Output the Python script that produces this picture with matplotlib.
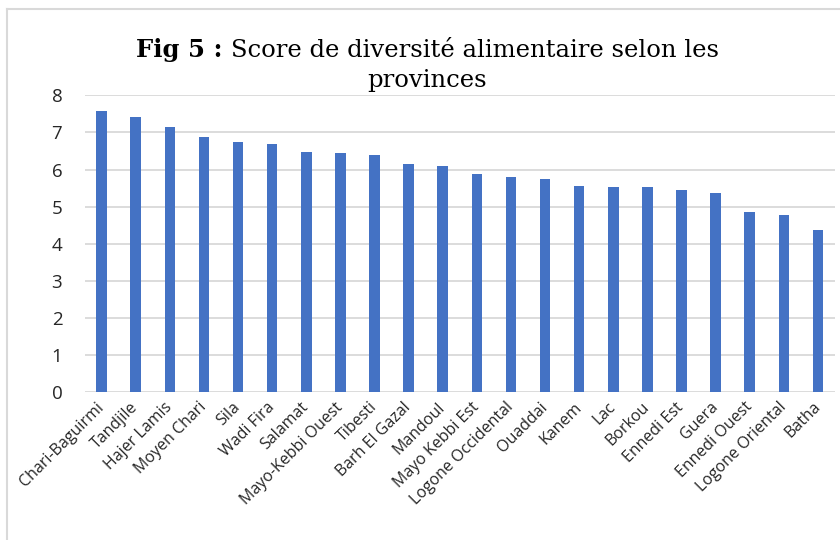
import matplotlib
matplotlib.use("Agg")
import matplotlib.pyplot as plt
from matplotlib.lines import Line2D

provinces = ["Chari-Baguirmi", "Tandjile", "Hajer Lamis", "Moyen Chari", "Sila",
             "Wadi Fira", "Salamat", "Mayo-Kebbi Ouest", "Tibesti", "Barh El Gazal",
             "Mandoul", "Mayo Kebbi Est", "Logone Occidental", "Ouaddai", "Kanem",
             "Lac", "Borkou", "Ennedi Est", "Guera", "Ennedi Ouest",
             "Logone Oriental", "Batha"]
scores = [7.58, 7.41, 7.14, 6.89, 6.74, 6.69, 6.47, 6.44, 6.38, 6.16,
          6.10, 5.89, 5.80, 5.74, 5.57, 5.53, 5.53, 5.46, 5.36, 4.87,
          4.77, 4.37]
yticks = [0, 1, 2, 3, 4, 5, 6, 7, 8]

bar_color = "#4472C4"
grid_color = "#D9D9D9"
text_color = "#262626"

fig = plt.figure(figsize=(8.4, 5.4), dpi=100)
ax = fig.add_axes([0.1006, 0.2735, 0.8935, 0.55])

x = range(len(provinces))
ax.bar(x, scores, width=0.31, color=bar_color, zorder=3)
ax.set_xlim(-0.5, len(provinces) - 0.5)
ax.set_ylim(0, 8)
ax.set_yticks(yticks)
ax.set_yticklabels([str(v) for v in yticks], fontsize=13.5,
                   family="Open Sans", color=text_color)
ax.set_xticks(list(x))
ax.set_xticklabels(provinces, rotation=45, ha="right", va="center",
                   rotation_mode="anchor", fontsize=11.5, family="Open Sans",
                   color=text_color)
ax.tick_params(axis="both", length=0)
ax.tick_params(axis="y", pad=16)
ax.tick_params(axis="x", pad=9)
ax.grid(axis="y", color=grid_color, lw=1.3, zorder=0)
for s in ax.spines.values():
    s.set_visible(False)

# outer chart frame (top and left edges visible)
fig.add_artist(Line2D([7 / 840, 7 / 840], [0, 1 - 9 / 540], color="#D9D9D9", lw=1.5))
fig.add_artist(Line2D([7 / 840, 1], [1 - 9 / 540, 1 - 9 / 540], color="#D9D9D9", lw=1.5))

# title: bold "Fig 5 :" followed by regular text
fs = 17.5
fig.canvas.draw()
r = fig.canvas.get_renderer()
t1 = fig.text(0, 0, "Fig 5 : ", fontsize=fs, family="DejaVu Serif", weight="bold")
t2 = fig.text(0, 0, "Score de diversité alimentaire selon les", fontsize=fs,
              family="DejaVu Serif")
w1 = t1.get_window_extent(r).width
w2 = t2.get_window_extent(r).width
cx = 427
x0 = cx - (w1 + w2) / 2
yb = 1 - 57 / 540
t1.set_position((x0 / 840, yb))
t2.set_position(((x0 + w1) / 840, yb))
fig.text(cx / 840, 1 - 87 / 540, "provinces", fontsize=fs, family="DejaVu Serif",
         ha="center")

fig.savefig("out.png", dpi=100)
